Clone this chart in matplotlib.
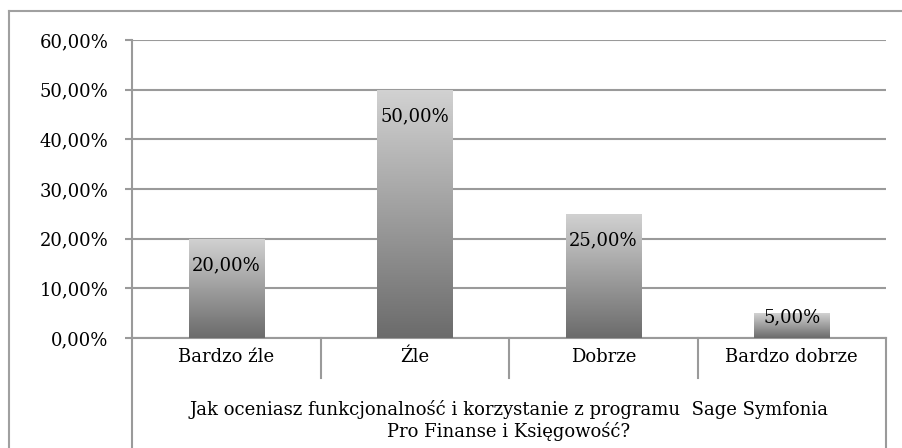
import matplotlib.pyplot as plt
import numpy as np
from matplotlib.lines import Line2D
from matplotlib.colors import LinearSegmentedColormap

categories = ["Bardzo źle", "Źle", "Dobrze", "Bardzo dobrze"]
values = [20.0, 50.0, 25.0, 5.0]
yticks = [0, 10, 20, 30, 40, 50, 60]
question = "Jak oceniasz funkcjonalność i korzystanie z programu  Sage Symfonia\nPro Finanse i Księgowość?"

plt.rcParams['font.family'] = ['DejaVu Serif']
grey = '#9a9a9a'

W, H = 903, 448
fig = plt.figure(figsize=(W / 100, H / 100), dpi=100)
ax = fig.add_axes([132 / W, (H - 338) / H, (886 - 132) / W, (338 - 40) / H])

x = np.arange(len(categories))

# bars with vertical grey gradient
cmap = LinearSegmentedColormap.from_list('g', ['#6b6b6b', '#d2d2d2'])
bars = ax.bar(x, values, width=0.4, color='none', edgecolor='none', zorder=3)
grad = np.linspace(0, 1, 256).reshape(-1, 1)
for b in bars:
    x0, w, h = b.get_x(), b.get_width(), b.get_height()
    im = ax.imshow(grad, cmap=cmap, origin='lower', extent=[x0, x0 + w, 0, h],
                   aspect='auto', zorder=3)
    im.set_clip_path(b)

ax.set_xlim(-0.5, len(categories) - 0.5)
ax.set_ylim(0, 60)

def pct(v):
    return f"{v:.2f}%".replace('.', ',')

for xi, v in zip(x, values):
    ty = v - 5.3 if v >= 10 else v - 0.8
    ax.text(xi, ty, pct(v), ha='center', va='center', fontsize=13, zorder=4)

# y axis
ax.set_yticks(yticks)
ax.set_yticklabels([pct(t) for t in yticks], fontsize=13)
ax.tick_params(axis='y', length=5, width=1.5, color=grey, pad=12)
ax.yaxis.grid(True, color=grey, lw=1.5)
ax.set_axisbelow(True)
for s in ['top', 'right']:
    ax.spines[s].set_visible(False)
for s in ['left', 'bottom']:
    ax.spines[s].set_color(grey)
    ax.spines[s].set_linewidth(1.5)

# category axis drawn by hand
ax.set_xticks([])
tr = ax.get_xaxis_transform()
sep_y = -(378 - 338) / 298
bottom_y = -(448 - 338) / 298
for xb in np.arange(len(categories) + 1) - 0.5:
    y_end = bottom_y if xb in (-0.5, len(categories) - 0.5) else sep_y
    ax.plot([xb, xb], [0, y_end], color=grey, lw=1.5, transform=tr, clip_on=False)
for xi, c in zip(x, categories):
    ax.text(xi, -(357 - 338) / 298, c, ha='center', va='center', fontsize=13, transform=tr)
ax.text((len(categories) - 1) / 2, -(420 - 338) / 298, question, ha='center', va='center',
        fontsize=13, linespacing=1.2, transform=tr)

# outer chart border (only left and top visible)
fl, ft = 8.5 / W, (H - 11.5) / H
fig.add_artist(Line2D([fl, fl], [0, ft], transform=fig.transFigure, color='#a0a0a0', lw=1.5))
fig.add_artist(Line2D([fl, 1], [ft, ft], transform=fig.transFigure, color='#a0a0a0', lw=1.5))

fig.savefig('out.png', dpi=100)
